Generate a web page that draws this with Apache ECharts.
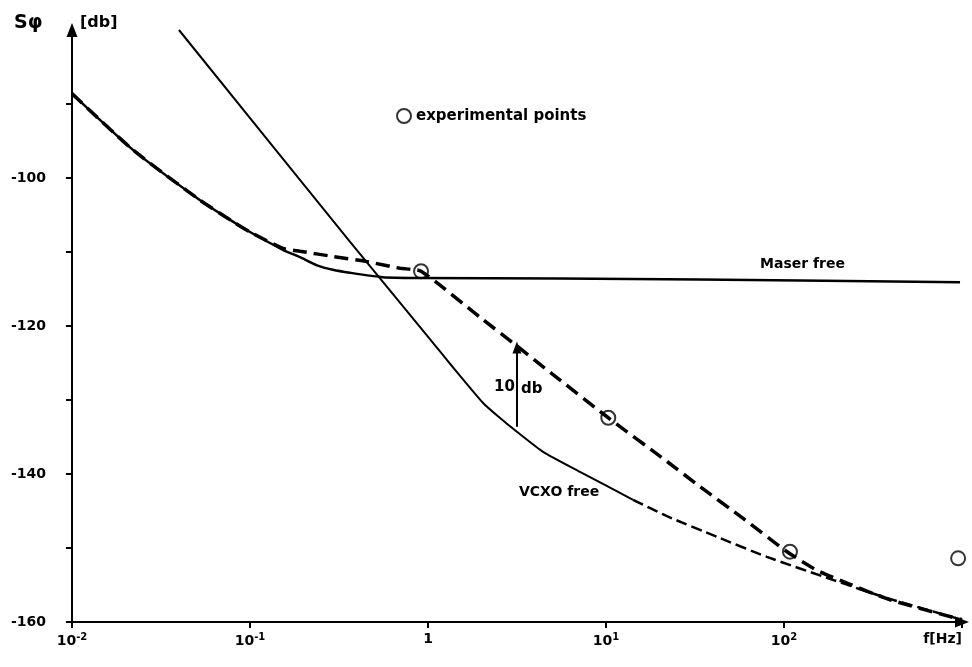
<!DOCTYPE html>
<html>
<head>
<meta charset="utf-8">
<script src="https://cdn.jsdelivr.net/npm/echarts@6/dist/echarts.min.js"></script>
<style>html,body{margin:0;padding:0;background:#fff;}#c{width:972px;height:667px;}</style>
</head>
<body>
<div id="c"></div>
<script>
// Frequencies (Hz) and phase noise (dB)
const maserFreq = [0.01, 0.022, 0.0524, 0.0802, 0.1, 0.153, 0.191, 0.238, 0.292, 0.364, 0.558, 0.867, 33.7, 975];
const maserDb   = [-88.6, -96.2, -103.0, -105.9, -107.3, -109.7, -110.7, -111.8, -112.4, -112.8, -113.4, -113.5, -113.7, -114.1];

const lockedFreq = [0.01, 0.022, 0.0524, 0.0802, 0.1, 0.153, 0.191, 0.292, 0.454, 0.697, 0.914, 2.0, 3.16, 5.0, 10.3, 22.0, 33.7, 58.9, 104, 153, 235, 394, 1000];
const lockedDb   = [-88.6, -96.2, -103.0, -105.9, -107.3, -109.5, -109.9, -110.6, -111.3, -112.2, -112.6, -119.0, -122.7, -126.5, -132.4, -138.3, -141.7, -146.0, -150.5, -153.0, -154.9, -157.0, -159.7];

// VCXO free: solid part, then the broken (dashed) part from ~14 Hz
const vcxoFreq = [0.0399, 0.364, 1.07, 1.33, 2.04, 2.53, 3.16, 4.43, 7.14, 14.2];
const vcxoDb   = [-80.0, -108.6, -122.3, -125.1, -130.4, -132.4, -134.3, -137.0, -139.7, -143.5];
const vcxoTailFreq = [14.2, 22.0, 42.1, 80.2, 188, 360, 1000];
const vcxoTailDb   = [-143.5, -145.7, -148.5, -151.2, -154.3, -156.6, -159.7];

const expFreq = [0.914, 10.3, 108, 951];
const expDb   = [-112.6, -132.4, -150.5, -151.4];

const arrowFreq = 3.16;
const arrowDb = [-133.6, -122.9];

const yTicks = [-160, -150, -140, -130, -120, -110, -100, -90];
const yLabelValues = [-160, -140, -120, -100];
const xTickLabels = ['10{s|-2}', '10{s|-1}', '1', '10{s|1}', '10{s|2}', 'f[Hz]'];

const zip = (a, b) => a.map((v, i) => [v, b[i]]);

const chart = echarts.init(document.getElementById('c'), null, {renderer: 'canvas'});
const black = '#000';
const font = 'DejaVu Sans';

chart.setOption({
  backgroundColor: '#fff',
  animation: false,
  grid: {left: 72, right: 10, top: 30, bottom: 45, outerBoundsMode: 'none', containLabel: false},
  legend: {
    data: [{name: 'experimental points', icon: 'emptyCircle'}],
    left: 391, top: 103, itemWidth: 14, itemHeight: 14, itemGap: 4,
    textStyle: {fontFamily: font, fontWeight: 'bold', fontSize: 15, color: black}
  },
  xAxis: {
    type: 'log', logBase: 10, min: 0.01, max: 1000,
    axisLine: {lineStyle: {color: black, width: 2}, symbol: ['none', 'triangle'], symbolSize: [11, 14]},
    axisTick: {show: true, length: 6, lineStyle: {color: black, width: 2}},
    minorTick: {show: false},
    splitLine: {show: false},
    axisLabel: {
      margin: 10, color: black, fontFamily: font, fontWeight: 'bold', fontSize: 14,
      alignMaxLabel: 'right',
      formatter: v => xTickLabels[Math.round(Math.log10(v)) + 2],
      rich: {s: {fontSize: 10, fontWeight: 'bold', fontFamily: font, verticalAlign: 'top', padding: [0, 0, 8, 0]}}
    }
  },
  yAxis: {
    type: 'value', min: -160, max: -80,
    axisLine: {show: true, lineStyle: {color: black, width: 2}, symbol: ['none', 'triangle'], symbolSize: [11, 14]},
    axisTick: {show: true, length: 6, customValues: yTicks, lineStyle: {color: black, width: 2}},
    axisLabel: {
      margin: 26, color: black, fontFamily: font, fontWeight: 'bold', fontSize: 14,
      customValues: yLabelValues,
      formatter: v => String(v)
    },
    splitLine: {show: false}
  },
  graphic: [
    {type: 'text', left: 14, top: 14, style: {text: 'Sφ', font: 'bold 19px DejaVu Sans', fill: black}},
    {type: 'text', left: 80, top: 15, style: {text: '[db]', font: 'bold 16px DejaVu Sans', fill: black}},
    {type: 'text', left: 760, top: 257, style: {text: 'Maser free', font: 'bold 14px DejaVu Sans', fill: black}},
    {type: 'text', left: 519, top: 485, style: {text: 'VCXO free', font: 'bold 14px DejaVu Sans', fill: black}},
    {type: 'text', left: 494, top: 380, style: {text: '10', font: 'bold 15px DejaVu Sans', fill: black}},
    {type: 'text', left: 521, top: 382, style: {text: 'db', font: 'bold 15px DejaVu Sans', fill: black}}
  ],
  series: [
    {
      name: 'Maser free', type: 'line', data: zip(maserFreq, maserDb), smooth: 0.2,
      symbol: 'none', lineStyle: {color: black, width: 2.5}
    },
    {
      name: 'Locked', type: 'line', data: zip(lockedFreq, lockedDb), smooth: 0.2,
      symbol: 'none', lineStyle: {color: black, width: 3.5, type: [14, 7]}
    },
    {
      name: 'VCXO free', type: 'line', data: zip(vcxoFreq, vcxoDb), smooth: 0.2,
      symbol: 'none', lineStyle: {color: black, width: 2},
      markLine: {
        silent: true, symbol: ['none', 'triangle'], symbolSize: [9, 12],
        label: {show: false},
        lineStyle: {color: black, width: 2, type: 'solid'},
        data: [[{coord: [arrowFreq, arrowDb[0]]}, {coord: [arrowFreq, arrowDb[1]]}]]
      }
    },
    {
      name: 'VCXO free tail', type: 'line', data: zip(vcxoTailFreq, vcxoTailDb), smooth: 0.2,
      symbol: 'none', lineStyle: {color: black, width: 2.5, type: [11, 5]}
    },
    {
      name: 'experimental points', type: 'scatter', data: zip(expFreq, expDb),
      symbol: 'emptyCircle', symbolSize: 14,
      itemStyle: {color: black, borderColor: black, borderWidth: 2.5}
    }
  ]
});
</script>
</body>
</html>
